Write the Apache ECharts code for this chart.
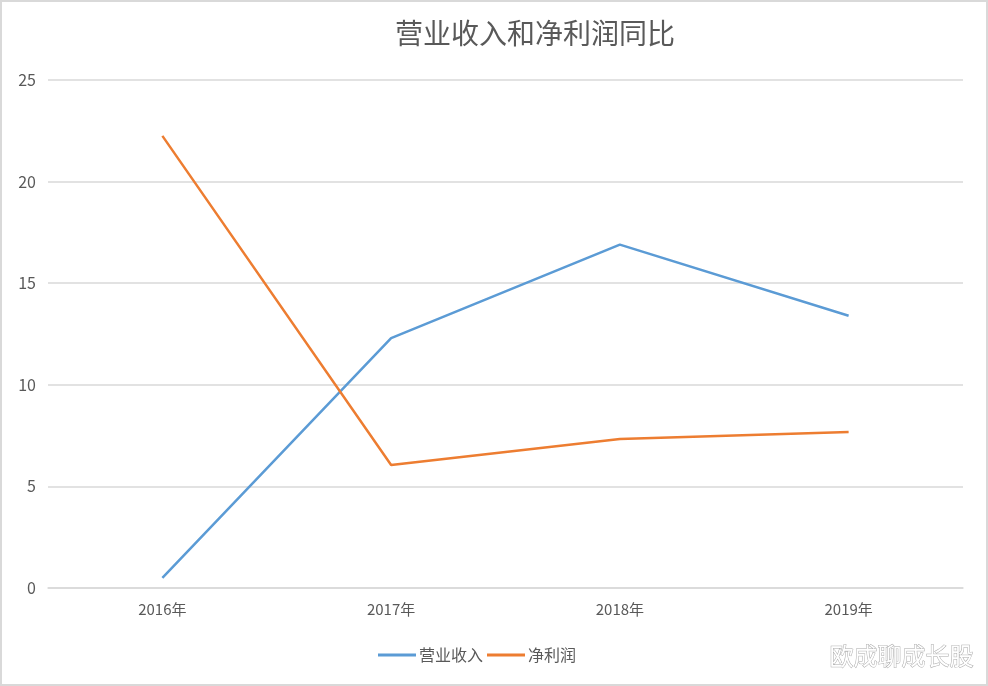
<!DOCTYPE html>
<html><head><meta charset="utf-8">
<script src="https://cdn.jsdelivr.net/npm/echarts@6/dist/echarts.min.js"></script>
<style>html,body{margin:0;padding:0;background:#fff}#c{width:988px;height:686px;box-sizing:border-box;border:2px solid #d9d9d9}</style>
</head><body><div id="c"></div>
<script>
const categories = ['2016年','2017年','2018年','2019年'];
const revenue = [0.5, 12.3, 16.9, 13.4];
const netProfit = [22.25, 6.05, 7.33, 7.68];
const chart = echarts.init(document.getElementById('c'));
const font = '"Noto Sans CJK SC", sans-serif';
chart.setOption({
  animation: false,
  title: { text: '营业收入和净利润同比', left: 388, top: 12,
    textStyle: { fontFamily: font, fontSize: 28, fontWeight: 'normal', color: '#595959' } },
  grid: { left: 46, right: 23, top: 78, bottom: 96, containLabel: false },
  legend: { bottom: 16, left: 371, itemWidth: 38, itemHeight: 3, itemGap: 4,
    textStyle: { fontFamily: font, fontSize: 16, color: '#595959', padding: [0, 0, 0, -2] },
    data: [{ name: '营业收入', icon: 'rect' }, { name: '净利润', icon: 'rect' }] },
  xAxis: { type: 'category', data: categories, boundaryGap: true,
    axisLine: { lineStyle: { color: '#d9d9d9', width: 1.5 } }, axisTick: { show: false },
    axisLabel: { fontFamily: font, fontSize: 15, color: '#595959', margin: 14 } },
  yAxis: { type: 'value', min: 0, max: 25, interval: 5,
    axisLine: { show: false }, axisTick: { show: false },
    splitLine: { lineStyle: { color: '#d9d9d9', width: 1.5 } },
    axisLabel: { fontFamily: font, fontSize: 16, color: '#595959', margin: 12 } },
  series: [
    { name: '营业收入', type: 'line', data: revenue, showSymbol: false, symbol: 'none',
      lineStyle: { color: '#5B9BD5', width: 2.5 }, itemStyle: { color: '#5B9BD5' } },
    { name: '净利润', type: 'line', data: netProfit, showSymbol: false, symbol: 'none',
      lineStyle: { color: '#ED7D31', width: 2.5 }, itemStyle: { color: '#ED7D31' } }
  ],
  graphic: [{ type: 'text', right: 12, bottom: 16,
    style: { text: '欧成聊成长股', font: '24px "Noto Sans CJK SC"', fill: '#ffffff',
      stroke: '#aaaaaa', lineWidth: 1 } }]
});
</script></body></html>
